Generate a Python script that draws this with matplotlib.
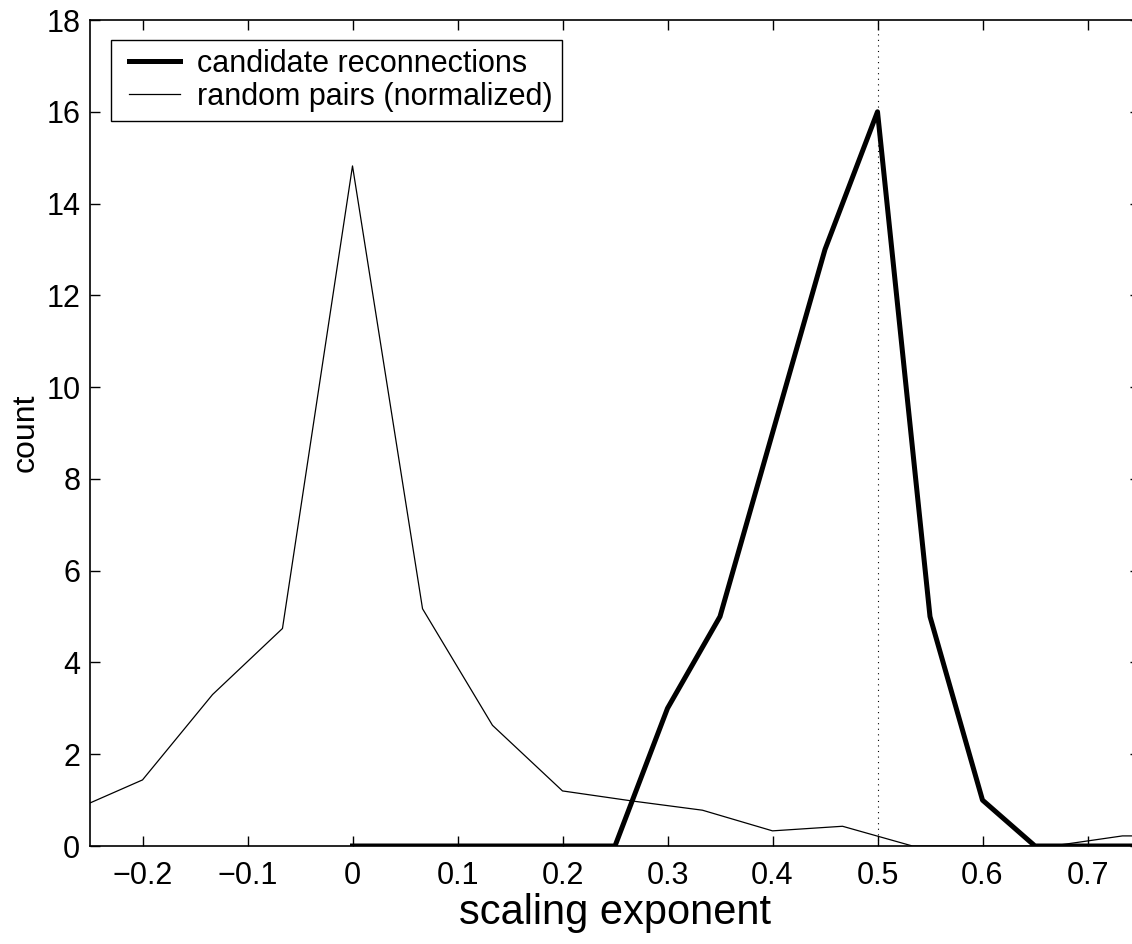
import matplotlib
matplotlib.use("Agg")
import matplotlib.pyplot as plt

plt.rcParams['font.family'] = ['Liberation Sans', 'DejaVu Sans']

# candidate reconnections (bin centres and counts)
cand_x = [0.0, 0.05, 0.1, 0.15, 0.2, 0.25, 0.3, 0.35, 0.4, 0.45, 0.5, 0.55, 0.6, 0.65, 0.7, 0.75]
cand_y = [0, 0, 0, 0, 0, 0, 3, 5, 9, 13, 16, 5, 1, 0, 0, 0]

# random pairs, normalized
rand_x = [-0.2667, -0.2, -0.1333, -0.0667, 0.0, 0.0667, 0.1333, 0.2, 0.2667,
          0.3333, 0.4, 0.4667, 0.5333, 0.6, 0.6667, 0.7333, 0.8]
rand_y = [0.77, 1.44, 3.30, 4.74, 14.82, 5.17, 2.63, 1.20, 0.98,
          0.78, 0.33, 0.43, 0.0, 0.0, 0.0, 0.22, 0.22]

xticks = [-0.2, -0.1, 0, 0.1, 0.2, 0.3, 0.4, 0.5, 0.6, 0.7]
xticklabels = ['\u22120.2', '\u22120.1', '0', '0.1', '0.2', '0.3', '0.4', '0.5', '0.6', '0.7']
yticks = [0, 2, 4, 6, 8, 10, 12, 14, 16, 18]

fig = plt.figure(figsize=(11.32, 9.44), dpi=100)
ax = fig.add_axes([90 / 1132, 1 - 846 / 944, 1050 / 1132, 826 / 944])

ax.plot(cand_x, cand_y, color='black', lw=3.6, label='candidate reconnections', zorder=3)
ax.plot(rand_x, rand_y, color='black', lw=0.9, label='random pairs (normalized)', zorder=2)
ax.axvline(0.5, color='black', lw=0.8, linestyle=(0, (1, 4)), zorder=1)

ax.set_xlim(-0.25, 0.75)
ax.set_ylim(0, 18)
ax.set_xticks(xticks)
ax.set_xticklabels(xticklabels)
ax.set_yticks(yticks)
ax.tick_params(direction='in', length=7, width=1, top=True, right=True, labelsize=22)
ax.tick_params(axis='x', pad=11)
ax.tick_params(axis='y', pad=7)
for s in ax.spines.values():
    s.set_linewidth(1.2)

ax.set_xlabel('scaling exponent', fontsize=30)
ax.xaxis.set_label_coords(0.5, -0.057)
ax.set_ylabel('count', fontsize=23, labelpad=4)

leg = ax.legend(loc='upper left', fontsize=22, fancybox=False, framealpha=1,
                edgecolor='black', numpoints=2, handlelength=2.26, handletextpad=0.26,
                borderpad=0.3, labelspacing=0.1, borderaxespad=0,
                bbox_to_anchor=(0.02, 0.976))
leg.get_frame().set_linewidth(1.0)

fig.savefig('out.png', dpi=100)
